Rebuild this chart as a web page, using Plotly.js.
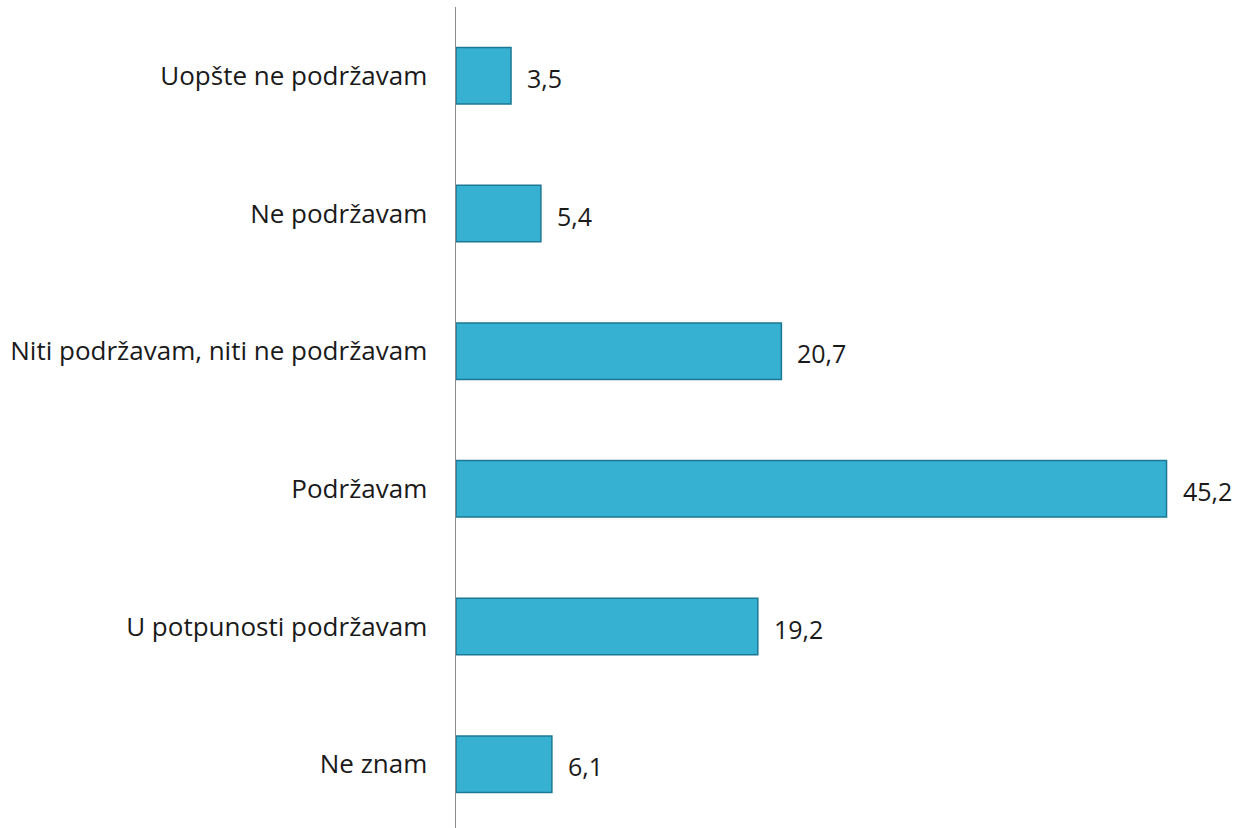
<!DOCTYPE html>
<html>
<head>
<meta charset="utf-8">
<script src="https://cdn.plot.ly/plotly-3.0.1.min.js"></script>
<style>html,body{margin:0;padding:0;background:#fff;overflow:hidden;}#chart{width:1253px;height:833px;}</style>
</head>
<body>
<div id="chart"></div>
<script>
const categories = ["Uopšte ne podržavam", "Ne podržavam", "Niti podržavam, niti ne podržavam", "Podržavam", "U potpunosti podržavam", "Ne znam"];
const values = [3.5, 5.4, 20.7, 45.2, 19.2, 6.1];
const valueLabels = ["3,5", "5,4", "20,7", "45,2", "19,2", "6,1"];

const FONT = "Open Sans, Noto Sans, sans-serif";

const traces = [
  {
    type: "bar", orientation: "h", x: values, y: categories,
    width: 0.41,
    marker: {color: "#36B1D2", line: {color: "#1C7894", width: 1.5}},
    hoverinfo: "skip"
  }
];

const annotations = values.map((v, i) => ({
  x: v, y: categories[i], xref: "x", yref: "y",
  text: valueLabels[i], showarrow: false, xanchor: "left", xshift: 14, yshift: -2,
  font: {family: FONT, size: 25, color: "#1a1a1a"}
}));

const layout = {
  width: 1253, height: 833,
  margin: {l: 456, r: 11, t: 7, b: 0},
  paper_bgcolor: "#fff", plot_bgcolor: "#fff",
  showlegend: false,
  xaxis: {range: [0, 50], visible: false, fixedrange: true},
  yaxis: {
    categoryorder: "array", categoryarray: categories, autorange: "reversed",
    showline: true, linecolor: "#8c8c8c", linewidth: 1.5,
    showgrid: false, zeroline: false, ticks: "",
    ticklabelstandoff: 22,
    tickfont: {family: FONT, size: 26, color: "#1a1a1a"}
  },
  annotations: annotations
};

Plotly.newPlot("chart", traces, layout, {displayModeBar: false, staticPlot: true});
</script>
</body>
</html>
